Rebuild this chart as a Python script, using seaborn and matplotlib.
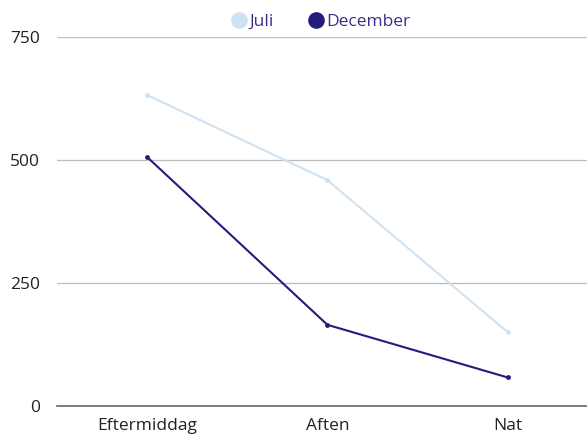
import matplotlib
matplotlib.use("Agg")
import matplotlib.pyplot as plt
import seaborn as sns
import pandas as pd
from matplotlib.lines import Line2D

# data
categories = ["Eftermiddag", "Aften", "Nat"]
juli = [632, 459, 150]
december = [506, 165, 58]
series_names = ["Juli", "December"]
colors = {"Juli": "#cfe2f3", "December": "#241c7c"}

df = pd.DataFrame({
    "Tid": categories * 2,
    "Antal": juli + december,
    "Serie": ["Juli"] * 3 + ["December"] * 3,
})

sns.set_theme(style="white")
plt.rcParams["font.family"] = ["Open Sans", "DejaVu Sans"]

fig = plt.figure(figsize=(5.87, 4.34), dpi=100)
ax = fig.add_axes([57 / 587, 28 / 434, 1 - 57 / 587, (406 - 37) / 434])

sns.lineplot(data=df, x="Tid", y="Antal", hue="Serie", palette=colors,
             marker="o", markersize=3.5, markeredgewidth=0, linewidth=1.5,
             sort=False, legend=False, ax=ax)

ax.set_ylim(0, 750)
ax.set_xlim(-0.5, 2.44)
ax.set_yticks([0, 250, 500, 750])
ax.yaxis.grid(True, color="#bdbdbd", linewidth=0.9)
ax.set_axisbelow(True)
for side in ["top", "right", "left"]:
    ax.spines[side].set_visible(False)
ax.spines["bottom"].set_color("#666666")
ax.spines["bottom"].set_linewidth(1.2)
ax.set_xlabel("")
ax.set_ylabel("")
ax.tick_params(axis="both", length=0, labelsize=12.5, labelcolor="#222222")
ax.tick_params(axis="y", pad=12)
ax.tick_params(axis="x", pad=9)

handles = [Line2D([], [], marker="o", linestyle="", markersize=12,
                  markerfacecolor=colors[s], markeredgewidth=0, label=s)
           for s in series_names]
leg = fig.legend(handles=handles, loc="upper center", ncol=2,
                 bbox_to_anchor=(0.546, 1.005), frameon=False, fontsize=12.5,
                 handletextpad=0.1, columnspacing=1.9, handlelength=1.0)
for t in leg.get_texts():
    t.set_color("#3a2e8a")

fig.savefig("out.png", dpi=100)
